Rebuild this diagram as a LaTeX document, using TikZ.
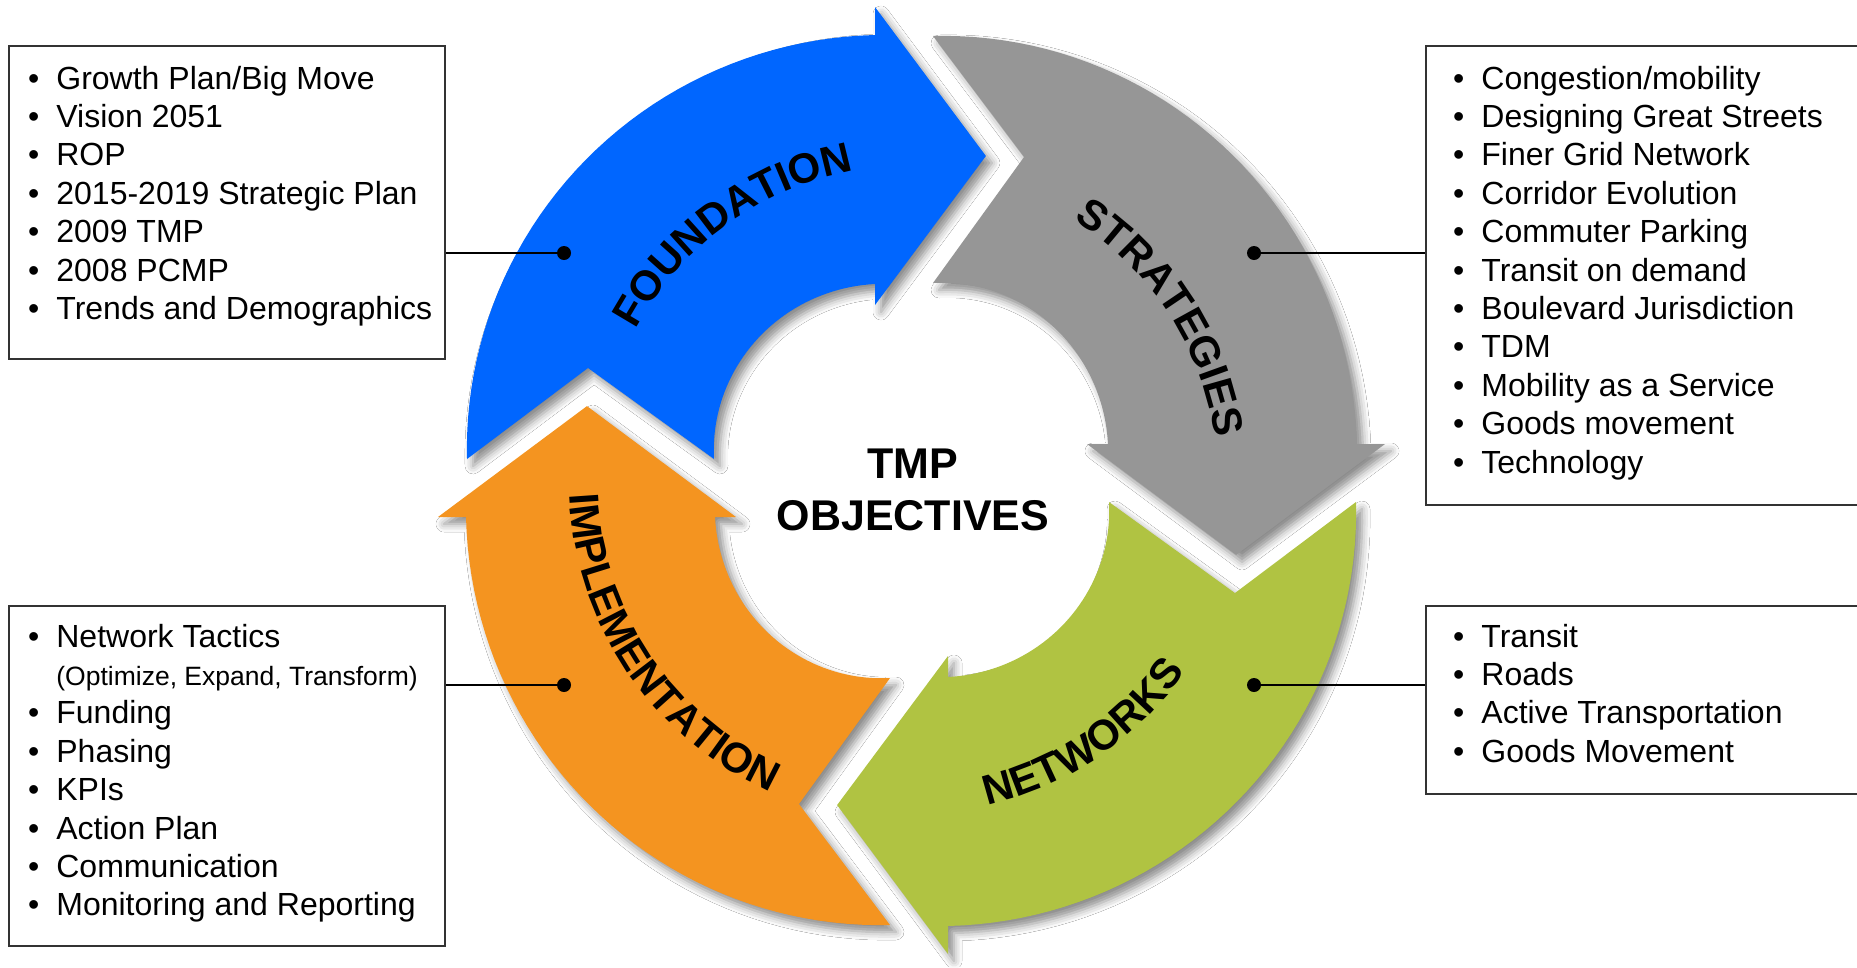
\documentclass[tikz,border=0pt]{standalone}
\usepackage{fontspec}
\setmainfont{Liberation Sans}
\usetikzlibrary{calc,shadows.blur,decorations.text}
\definecolor{fblue}{HTML}{0066FF}
\definecolor{sgray}{HTML}{969696}
\definecolor{ngreen}{HTML}{B0C342}
\definecolor{iorange}{HTML}{F49420}
\definecolor{boxline}{HTML}{333333}
% #1 cx, #2 cy, #3 rotation (clockwise on screen), #4 colour
\newcommand\cyclearrow[4]{%
  \fill[#4, arrowshadow]
    plot[domain=180:270, samples=46, variable=\t]
      ({#1+(408+16*(\t-180)/90)*cos(\t+#3)}, {#2+(408+16*(\t-180)/90)*sin(\t+#3)})
    -- ($(#1,#2)+(270+#3:452)$)
    -- ($(#1,#2)+(290.1+#3:322.7)$)
    -- ($(#1,#2)+(270+#3:154)$)
    -- plot[domain=270:180, samples=46, variable=\t]
      ({#1+(161+14*(\t-180)/90)*cos(\t+#3)}, {#2+(161+14*(\t-180)/90)*sin(\t+#3)})
    -- ($(#1,#2)+(197.6+#3:301.1)$)
    -- cycle;
}
% curved label: #1 radius, #2 start angle, #3 end angle, #4 text
\newcommand\arclabel[4]{%
  \path[decorate, decoration={text along path, text align=center,
      text={|\fontsize{42}{50}\selectfont\bfseries|#4}}]
    plot[domain=#2:#3, samples=80, variable=\t]
      ({912+#1*cos(\t)}, {480+#1*sin(\t)});
}
\begin{document}
\begin{tikzpicture}[x=1pt, y=-1pt,
  arrowshadow/.style={blur shadow={shadow xshift=6pt, shadow yshift=-7pt, shadow blur radius=8pt, shadow opacity=45}},
  listbox/.style={draw=boxline, line width=2.4pt, inner sep=0pt, anchor=north west},
  listtext/.style={anchor=base west, inner sep=0pt, font=\fontsize{32}{38.4}\selectfont},
  leader/.style={line width=2pt, black},
  leaddot/.style={circle, fill=black, inner sep=0pt, minimum size=14pt}]
\useasboundingbox (0,0) rectangle (1857,967);
\clip (0,0) rectangle (1857,967);
\fill[white] (0,0) rectangle (1857,967);

% cycle arrows
\cyclearrow{875}{459}{0}{fblue}
\cyclearrow{933}{444}{90}{sgray}
\cyclearrow{948}{502}{180}{ngreen}
\cyclearrow{890}{517}{270}{iorange}

% arrow labels, set along arcs round the centre
\arclabel{315}{194}{274}{FOUNDATION}
\arclabel{306}{287}{367}{STRATEGIES}
\arclabel{334}{96}{16}{NETWORKS}
\arclabel{343}{190}{102}{IMPLEMENTATION}
\node[font=\fontsize{43}{52}\selectfont\bfseries, align=center, inner sep=0pt] (tmp) at (913,490) {TMP\\OBJECTIVES};

% boxes
\node[listbox, minimum width=436pt, minimum height=313pt] (bfound) at (8,45) {};
\node[listbox, minimum width=436pt, minimum height=340pt] (bimpl) at (8,605) {};
\node[listbox, minimum width=460pt, minimum height=459pt] (bstrat) at (1425,45) {};
\node[listbox, minimum width=460pt, minimum height=188pt] (bnet) at (1425,605) {};

\node[listtext] (tfound) at (28,89) {\begin{tabular}[t]{@{}l@{\hspace{17pt}}l@{}}
•&Growth Plan/Big Move\\
•&Vision 2051\\
•&ROP\\
•&2015-2019 Strategic Plan\\
•&2009 TMP\\
•&2008 PCMP\\
•&Trends and Demographics
\end{tabular}};
\node[listtext] (timpl) at (28,647) {\begin{tabular}[t]{@{}l@{\hspace{17pt}}l@{}}
•&Network Tactics\\
&{\fontsize{26.5}{38.4}\selectfont(Optimize, Expand, Transform)}\\
•&Funding\\
•&Phasing\\
•&KPIs\\
•&Action Plan\\
•&Communication\\
•&Monitoring and Reporting
\end{tabular}};
\node[listtext] (tstrat) at (1453,89) {\begin{tabular}[t]{@{}l@{\hspace{17pt}}l@{}}
•&Congestion/mobility\\
•&Designing Great Streets\\
•&Finer Grid Network\\
•&Corridor Evolution\\
•&Commuter Parking\\
•&Transit on demand\\
•&Boulevard Jurisdiction\\
•&TDM\\
•&Mobility as a Service\\
•&Goods movement\\
•&Technology
\end{tabular}};
\node[listtext] (tnet) at (1453,647) {\begin{tabular}[t]{@{}l@{\hspace{17pt}}l@{}}
•&Transit\\
•&Roads\\
•&Active Transportation\\
•&Goods Movement
\end{tabular}};

% leaders
\node[leaddot] (dfound) at (564,253) {};
\node[leaddot] (dimpl) at (564,685) {};
\node[leaddot] (dstrat) at (1254,253) {};
\node[leaddot] (dnet) at (1254,685) {};
\draw[leader] (dfound.center) -- (dfound -| bfound.east);
\draw[leader] (dimpl.center) -- (dimpl -| bimpl.east);
\draw[leader] (dstrat.center) -- (dstrat -| bstrat.west);
\draw[leader] (dnet.center) -- (dnet -| bnet.west);
\end{tikzpicture}
\end{document}
